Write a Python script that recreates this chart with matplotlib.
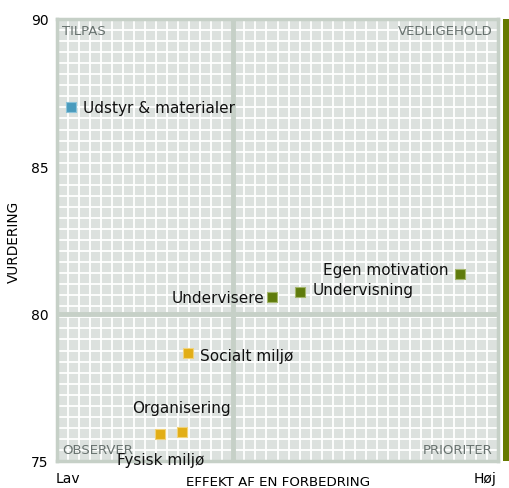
"""Quadrant chart: effekt af en forbedring vs vurdering."""

import matplotlib

matplotlib.use("Agg")
import matplotlib.pyplot as plt
import numpy as np

plt.rcParams["font.family"] = ["DejaVu Sans"]

# data
labels = ["Udstyr & materialer", "Egen motivation", "Undervisning", "Undervisere",
          "Socialt miljø", "Organisering", "Fysisk miljø"]
effekt = [3.2, 91.4, 55.1, 48.8, 29.7, 28.3, 23.4]
vurdering = [87.0, 81.35, 80.75, 80.55, 78.65, 76.0, 75.9]
groups = ["blue", "green", "green", "green", "yellow", "yellow", "yellow"]

x_mid = 40
y_mid = 80
y_ticks = [75, 80, 85, 90]

colors = {"blue": ("#4a9bbd", "#8cc3d9"), "green": ("#5f7b0c", "#a3b56a"), "yellow": ("#e2ae16", "#f0d27a")}
# label offsets in pixels (dx, dy, ha, va)
offsets = [(12, 0, "left", "center"), (-12, 4, "right", "center"), (13, 2, "left", "center"),
           (-8, 0, "right", "center"), (12, -2, "left", "center"), (0, 24, "center", "center"),
           (0, -25, "center", "center")]

fig = plt.figure(figsize=(5.09, 4.89), dpi=100)
ax = fig.add_axes([57 / 509, 27 / 489, 441 / 509, 442 / 489])
ax.set_facecolor("#dce1de")
ax.set_xlim(0, 100)
ax.set_ylim(75, 90)

# fine grid
for gx in np.linspace(0, 100, 41)[1:-1]:
    ax.axvline(gx, color="white", lw=1.3, zorder=1)
for gy in np.linspace(75, 90, 41)[1:-1]:
    ax.axhline(gy, color="white", lw=1.3, zorder=1)

ax.axvline(x_mid, color="#c6d0c7", lw=3.5, zorder=2)
ax.axhline(y_mid, color="#c6d0c7", lw=3.5, zorder=2)

for side in ax.spines.values():
    side.set_color("#c6d0c7")
    side.set_linewidth(2.5)

for x, y, g, lab, (dx, dy, ha, va) in zip(effekt, vurdering, groups, labels, offsets):
    face, edge = colors[g]
    ax.scatter(x, y, s=50, marker="s", color=face, edgecolors=edge, linewidths=0.8, zorder=4)
    ax.annotate(lab, (x, y), xytext=(dx, dy), textcoords="offset pixels", ha=ha, va=va,
                fontsize=11, color="#111111", zorder=5)

qcol = "#68726f"
ax.text(0.012, 0.988, "TILPAS", transform=ax.transAxes, ha="left", va="top", fontsize=9.5, color=qcol)
ax.text(0.988, 0.988, "VEDLIGEHOLD", transform=ax.transAxes, ha="right", va="top", fontsize=9.5, color=qcol)
ax.text(0.012, 0.012, "OBSERVER", transform=ax.transAxes, ha="left", va="bottom", fontsize=9.5, color=qcol)
ax.text(0.988, 0.012, "PRIORITER", transform=ax.transAxes, ha="right", va="bottom", fontsize=9.5, color=qcol)

ax.set_yticks(y_ticks)
ax.set_yticklabels([str(t) for t in y_ticks], fontsize=10)
ax.tick_params(axis="y", length=0, pad=6)
ax.set_xticks([])

fig.text(14 / 509, 1 - 242 / 489, "VURDERING", rotation=90, ha="center", va="center", fontsize=9.8)
fig.text(68 / 509, 1 - 479 / 489, "Lav", ha="center", va="center", fontsize=10)
fig.text(485 / 509, 1 - 479 / 489, "Høj", ha="center", va="center", fontsize=10)
fig.text(278 / 509, 1 - 483 / 489, "EFFEKT AF EN FORBEDRING", ha="center", va="center", fontsize=9.6)

# green bar on the right
bar = fig.add_axes([503 / 509, 27 / 489, 6 / 509, 442 / 489])
bar.set_facecolor("#667a00")
bar.set_xticks([])
bar.set_yticks([])
for side in bar.spines.values():
    side.set_visible(False)

fig.savefig("out.png", dpi=100)
